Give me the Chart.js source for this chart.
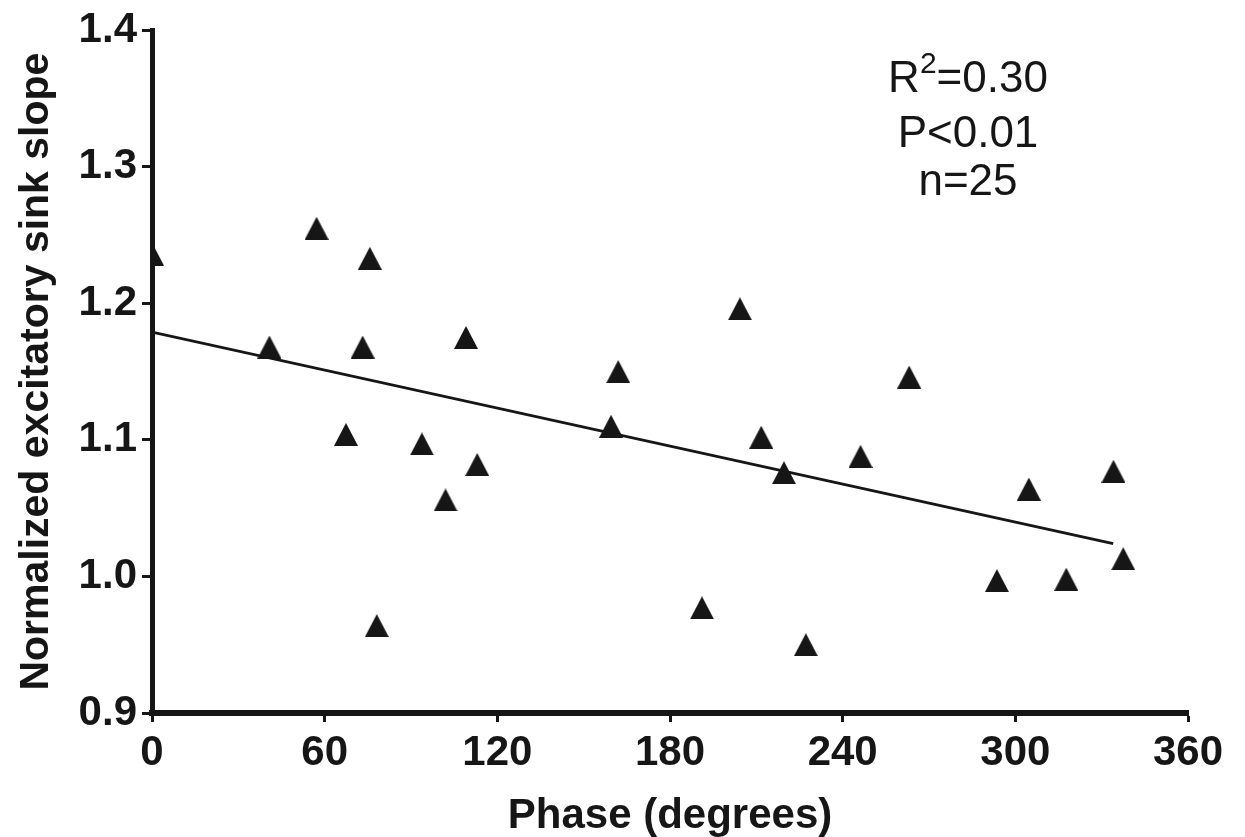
<!DOCTYPE html>
<html>
<head>
<meta charset="utf-8">
<script src="https://cdn.jsdelivr.net/npm/chart.js@4.4.0/dist/chart.umd.min.js"></script>
<style>
  html, body { margin: 0; padding: 0; background: #fff; }
  #wrap { width: 1245px; height: 837px; }
</style>
</head>
<body>
<div id="wrap"><canvas id="myChart" width="1245" height="837"></canvas></div>
<script>
// phase (degrees) and normalized slope
const phase = [0, 40.8, 57.2, 67.4, 73.2, 75.7, 78.1, 93.8, 102, 109.1, 113,
  159.5, 162, 191.1, 204.3, 211.7, 219.6, 227.2, 246.2, 263.1, 293.6, 304.7,
  317.7, 334.1, 337.5];
const slope = [1.236, 1.168, 1.255, 1.104, 1.168, 1.233, 0.964, 1.097, 1.056,
  1.175, 1.082, 1.110, 1.150, 0.977, 1.196, 1.102, 1.076, 0.950, 1.088, 1.146,
  0.997, 1.064, 0.998, 1.077, 1.013];

// regression line ends
const fitX = [0, 334];
const fitY = [1.179, 1.024];

const xTicks = [0, 60, 120, 180, 240, 300, 360];
const yTicks = [0.9, 1.0, 1.1, 1.2, 1.3, 1.4];

const statText = [["R", "2", "=0.30"], ["P<0.01"], ["n=25"]];

const ink = "#161616";
const family = "'Liberation Sans', Arial, sans-serif";

// filled triangle marker, centred on the point
function triangleMarker() {
  const c = document.createElement("canvas");
  c.width = 24;
  c.height = 23;
  const g = c.getContext("2d");
  g.fillStyle = ink;
  g.beginPath();
  g.moveTo(12, 0);
  g.lineTo(24, 23);
  g.lineTo(0, 23);
  g.closePath();
  g.fill();
  return c;
}

const points = phase.map((p, i) => ({ x: p, y: slope[i] }));
const fit = fitX.map((p, i) => ({ x: p, y: fitY[i] }));

const statsPlugin = {
  id: "stats",
  afterDraw: (chart) => {
    const ctx = chart.ctx;
    ctx.save();
    ctx.fillStyle = ink;
    ctx.textBaseline = "alphabetic";
    const cx = 968;
    const baselines = [92, 147, 195];
    statText.forEach((parts, i) => {
      if (parts.length == 1) {
        ctx.font = "44px " + family;
        ctx.textAlign = "center";
        ctx.fillText(parts[0], cx, baselines[i]);
      } else {
        // text with a superscript
        ctx.font = "44px " + family;
        let w1 = ctx.measureText(parts[0]).width;
        let w3 = ctx.measureText(parts[2]).width;
        ctx.font = "30px " + family;
        let w2 = ctx.measureText(parts[1]).width;
        let x = cx - (w1 + w2 + w3) / 2;
        ctx.textAlign = "left";
        ctx.font = "44px " + family;
        ctx.fillText(parts[0], x, baselines[i]);
        ctx.font = "30px " + family;
        ctx.fillText(parts[1], x + w1, baselines[i] - 19);
        ctx.font = "44px " + family;
        ctx.fillText(parts[2], x + w1 + w2, baselines[i]);
      }
    });
    ctx.restore();
  },
};

const ctx = document.getElementById("myChart").getContext("2d");
const myChart = new Chart(ctx, {
  type: "scatter",
  data: {
    datasets: [
      {
        label: "cells",
        data: points,
        pointStyle: triangleMarker(),
        pointRadius: 12,
        backgroundColor: ink,
        borderColor: ink,
      },
      {
        label: "fit",
        data: fit,
        showLine: true,
        pointRadius: 0,
        borderColor: ink,
        borderWidth: 2.8,
      },
    ],
  },
  options: {
    responsive: false,
    animation: false,
    layout: { padding: { top: 26, right: 57, left: 0, bottom: 0 } },
    plugins: {
      legend: false,
      tooltip: { enabled: false },
    },
    scales: {
      x: {
        type: "linear",
        min: 0,
        max: 360,
        afterBuildTicks: (scale) => {
          scale.ticks = xTicks.map((v) => ({ value: v }));
        },
        afterFit: (scale) => {
          scale.height = 124;
        },
        border: { color: ink, width: 6 },
        grid: {
          drawOnChartArea: false,
          color: ink,
          tickLength: 9,
          tickWidth: 3,
        },
        ticks: {
          color: ink,
          padding: 6,
          font: { family: family, size: 42, weight: "bold" },
          maxRotation: 0,
        },
        title: {
          display: true,
          text: "Phase (degrees)",
          color: ink,
          font: { family: family, size: 42, weight: "bold", lineHeight: 1.0 },
          padding: { top: 0, bottom: 0 },
        },
      },
      y: {
        type: "linear",
        min: 0.9,
        max: 1.4,
        afterBuildTicks: (scale) => {
          scale.ticks = yTicks.map((v) => ({ value: v }));
        },
        afterFit: (scale) => {
          scale.width = 152;
        },
        border: { color: ink, width: 5 },
        grid: {
          drawOnChartArea: false,
          color: ink,
          tickLength: 10,
          tickWidth: 3,
        },
        ticks: {
          color: ink,
          padding: 5,
          font: { family: family, size: 42, weight: "bold" },
          callback: (v) => v.toFixed(1),
        },
        title: {
          display: true,
          text: "Normalized excitatory sink slope",
          color: ink,
          font: { family: family, size: 41, weight: "bold" },
          padding: { top: 12, bottom: 0 },
        },
      },
    },
  },
  plugins: [statsPlugin],
});
</script>
</body>
</html>
